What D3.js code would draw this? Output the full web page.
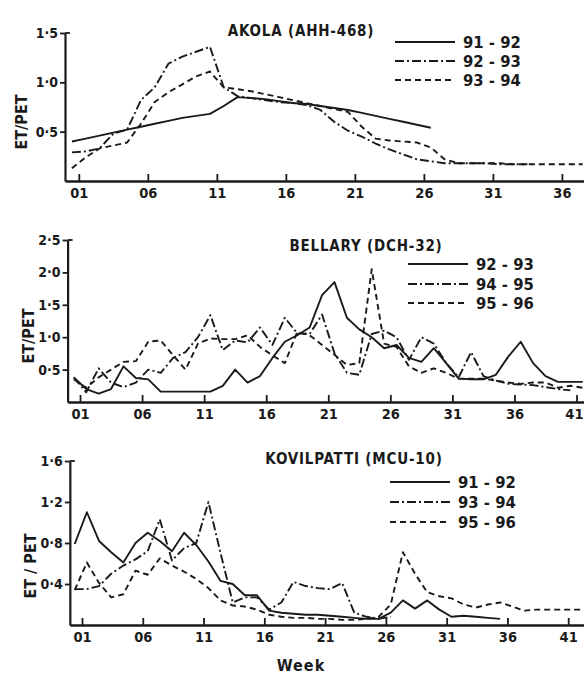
<!DOCTYPE html>
<html><head><meta charset="utf-8">
<script src="https://cdn.jsdelivr.net/npm/d3@7/dist/d3.min.js"></script>
<style>
html,body{margin:0;padding:0;background:#fff;}
svg{display:block;}
text{font-family:"DejaVu Sans Condensed","Liberation Sans Narrow",sans-serif;fill:#1a1a1a;}
</style></head>
<body><svg id="c" width="584" height="679"></svg>
<script>
// ---------- DATA ----------
const weekTicksA = [1,6,11,16,21,26,31,36];
const weekTicksB = [1,6,11,16,21,26,31,36,41];
const weekTicksK = [1,6,11,16,21,26,31,36,41];
const yTicksA = [0.5,1.0,1.5];
const yTicksB = [0.5,1.0,1.5,2.0,2.5];
const yTicksK = [0.4,0.8,1.2,1.6];
const yLabelsA = ["0·5","1·0","1·5"];
const yLabelsB = ["0·5","1·0","1·5","2·0","2·5"];
const yLabelsK = ["0·4","0·8","1·2","1·6"];

// Akola (AHH-468): first point at week 0.5, one value per week
const akolaStart = 0.5;
const akola9192 = [0.40,0.43,0.46,0.49,0.52,0.55,0.58,0.61,0.64,0.66,0.68,0.76,0.85,0.84,0.83,0.81,0.79,0.78,0.76,0.74,0.72,0.69,0.66,0.63,0.60,0.57,0.54];
const akola9293 = [0.29,0.30,0.33,0.48,0.52,0.82,0.95,1.19,1.26,1.31,1.36,0.95,0.86,0.84,0.82,0.80,0.79,0.77,0.72,0.60,0.51,0.45,0.38,0.32,0.27,0.22,0.20,0.18,0.18,0.18,0.18,0.17,0.17,0.17];
const akola9394 = [0.13,0.24,0.33,0.36,0.39,0.58,0.80,0.90,0.98,1.06,1.11,0.95,0.93,0.91,0.88,0.85,0.82,0.79,0.76,0.73,0.70,0.55,0.43,0.41,0.40,0.39,0.34,0.22,0.18,0.18,0.18,0.18,0.17,0.17,0.17,0.17,0.17,0.17];

// Bellary (DCH-32)
const bellaryStart = 0.5;
const bellary9293 = [0.38,0.20,0.13,0.20,0.55,0.37,0.35,0.16,0.16,0.16,0.16,0.16,0.25,0.50,0.30,0.40,0.68,0.93,1.03,1.15,1.65,1.85,1.30,1.12,1.00,0.83,0.88,0.68,0.62,0.83,0.60,0.36,0.35,0.35,0.42,0.70,0.93,0.60,0.40,0.31,0.31,0.31];
const bellary9495 = [0.38,0.15,0.52,0.30,0.23,0.30,0.50,0.45,0.68,0.77,1.00,1.34,0.80,0.95,0.92,1.15,0.88,1.30,1.06,1.05,1.35,0.75,0.45,0.42,1.05,1.10,1.00,0.65,1.00,0.90,0.60,0.38,0.77,0.40,0.33,0.28,0.27,0.26,0.23,0.20,0.18];
const bellary9596 = [0.35,0.22,0.38,0.50,0.62,0.63,0.93,0.95,0.72,0.50,0.90,0.98,0.97,0.97,1.03,0.85,0.72,0.60,1.08,1.03,0.88,0.73,0.57,0.60,2.05,0.90,0.85,0.55,0.45,0.52,0.45,0.36,0.36,0.36,0.33,0.30,0.28,0.30,0.30,0.22,0.25,0.22];

// Kovilpatti (MCU-10)
const kovStart = 0.4;
const kov9192 = [0.79,1.10,0.82,0.71,0.61,0.80,0.90,0.82,0.72,0.90,0.78,0.62,0.43,0.40,0.29,0.29,0.14,0.12,0.11,0.10,0.10,0.09,0.08,0.07,0.06,0.06,0.12,0.24,0.16,0.24,0.15,0.08,0.09,0.08,0.07,0.06];
const kov9394 = [0.35,0.35,0.38,0.50,0.58,0.64,0.72,1.03,0.63,0.75,0.80,1.20,0.70,0.22,0.27,0.27,0.15,0.22,0.42,0.38,0.36,0.35,0.41,0.12,0.08,0.06,0.08];
const kov9596 = [0.34,0.61,0.41,0.27,0.30,0.53,0.49,0.65,0.58,0.52,0.45,0.36,0.24,0.19,0.18,0.15,0.10,0.08,0.07,0.07,0.06,0.06,0.05,0.05,0.06,0.08,0.20,0.71,0.50,0.32,0.28,0.26,0.20,0.17,0.20,0.22,0.18,0.14,0.15,0.15,0.15,0.15,0.15];

// ---------- DRAW ----------
const svg = d3.select("#c");
const INK = "#1a1a1a";
const FONT = '"DejaVu Sans Condensed","Liberation Sans Narrow",sans-serif';
const styles = {
  solid: null,
  dashdot: "9,3,2,3",
  dashed: "6,4"
};

const panels = [
  {title:"AKOLA (AHH-468)", titleX:301, titleY:36,
   x0:65, x1:584, wkMax:37.6, yTop:33, yBot:181, yMax:1.5,
   yTicks:yTicksA, yLabels:yLabelsA, xTicks:weekTicksA,
   ylab:"ET/PET", ylabX:27, ylabY:122,
   legX:395, legY:[42,61,80],
   series:[
     {name:"91-92", start:akolaStart, vals:akola9192, style:"solid"},
     {name:"92-93", start:akolaStart, vals:akola9293, style:"dashdot"},
     {name:"93-94", start:akolaStart, vals:akola9394, style:"dashed"}]},
  {title:"BELLARY (DCH-32)", titleX:366, titleY:251,
   x0:67.6, x1:584, wkMax:41.6, yTop:240, yBot:402, yMax:2.5,
   yTicks:yTicksB, yLabels:yLabelsB, xTicks:weekTicksB,
   ylab:"ET/PET", ylabX:34, ylabY:336,
   legX:408, legY:[264,284,303],
   series:[
     {name:"92-93", start:bellaryStart, vals:bellary9293, style:"solid"},
     {name:"94-95", start:bellaryStart, vals:bellary9495, style:"dashdot"},
     {name:"95-96", start:bellaryStart, vals:bellary9596, style:"dashed"}]},
  {title:"KOVILPATTI (MCU-10)", titleX:354, titleY:464,
   x0:69.85, x1:584, wkMax:42.3, yTop:461, yBot:625, yMax:1.6,
   yTicks:yTicksK, yLabels:yLabelsK, xTicks:weekTicksK,
   ylab:"ET / PET", ylabX:36, ylabY:566,
   legX:390, legY:[482,502,522],
   series:[
     {name:"91-92", start:kovStart, vals:kov9192, style:"solid"},
     {name:"93-94", start:kovStart, vals:kov9394, style:"dashdot"},
     {name:"95-96", start:kovStart, vals:kov9596, style:"dashed"}]}
];

panels.forEach(p => {
  const g = svg.append("g");
  const x = d3.scaleLinear().domain([0, p.wkMax]).range([p.x0, p.x1]);
  const y = d3.scaleLinear().domain([0, p.yMax]).range([p.yBot, p.yTop]);

  // lines
  const line = d3.line().x(d => x(d[0])).y(d => y(d[1]));
  p.series.forEach(s => {
    const pts = s.vals.map((v, i) => [s.start + i, v]);
    g.append("path").attr("d", line(pts))
      .attr("fill","none").attr("stroke",INK).attr("stroke-width",1.9)
      .attr("stroke-linejoin","round")
      .attr("stroke-dasharray", styles[s.style]);
  });

  // x axis
  const xa = g.append("g").attr("transform",`translate(0,${p.yBot})`)
    .call(d3.axisBottom(x).tickValues(p.xTicks).tickFormat(d3.format("02d"))
      .tickSizeInner(-7).tickSizeOuter(0).tickPadding(7));
  xa.select(".domain").attr("stroke",INK).attr("stroke-width",2.4);
  xa.selectAll(".tick line").attr("stroke",INK).attr("stroke-width",1.8);
  xa.selectAll(".tick text").attr("font-size",14.5).attr("font-weight","bold").attr("fill",INK)
    .style("font-family",FONT)
    .attr("text-anchor", d => x(d) > 570 ? "end" : "middle")
    .attr("dx", d => x(d) > 570 ? (584 - x(d) - 1) : 0);

  // y axis
  const ya = g.append("g").attr("transform",`translate(${p.x0},0)`)
    .call(d3.axisLeft(y).tickValues(p.yTicks).tickFormat((d,i) => p.yLabels[i])
      .tickSizeInner(5).tickSizeOuter(0).tickPadding(2));
  ya.select(".domain").attr("stroke",INK).attr("stroke-width",2.2);
  ya.selectAll(".tick line").attr("stroke",INK).attr("stroke-width",1.8);
  ya.selectAll(".tick text").attr("font-size",14).attr("font-weight","bold").attr("fill",INK)
    .style("font-family",FONT);
  g.append("line").attr("x1",p.x0).attr("x2",p.x0+5)
    .attr("y1",y(p.yMax)).attr("y2",y(p.yMax)).attr("stroke",INK).attr("stroke-width",1.8);

  // title
  g.append("text").attr("x",p.titleX).attr("y",p.titleY)
    .attr("text-anchor","middle").attr("font-size",15).attr("font-weight","bold")
    .attr("letter-spacing",0.8).text(p.title);

  // y label
  g.append("text").attr("transform",`translate(${p.ylabX},${p.ylabY}) rotate(-90)`)
    .attr("text-anchor","middle").attr("font-size",16).attr("font-weight","bold").text(p.ylab);

  // legend
  p.series.forEach((s,i) => {
    const ly = p.legY[i];
    g.append("line").attr("x1",p.legX).attr("x2",p.legX+60)
      .attr("y1",ly).attr("y2",ly).attr("stroke",INK).attr("stroke-width",1.9)
      .attr("stroke-dasharray", styles[s.style]);
    g.append("text").attr("x",p.legX+68).attr("y",ly+6)
      .attr("font-size",16.5).attr("font-weight","bold").text(s.name.replace("-"," - "));
  });
});

svg.append("text").attr("x",301).attr("y",671).attr("text-anchor","middle")
  .attr("font-size",16).attr("font-weight","bold").attr("letter-spacing",1).text("Week");
</script></body></html>
